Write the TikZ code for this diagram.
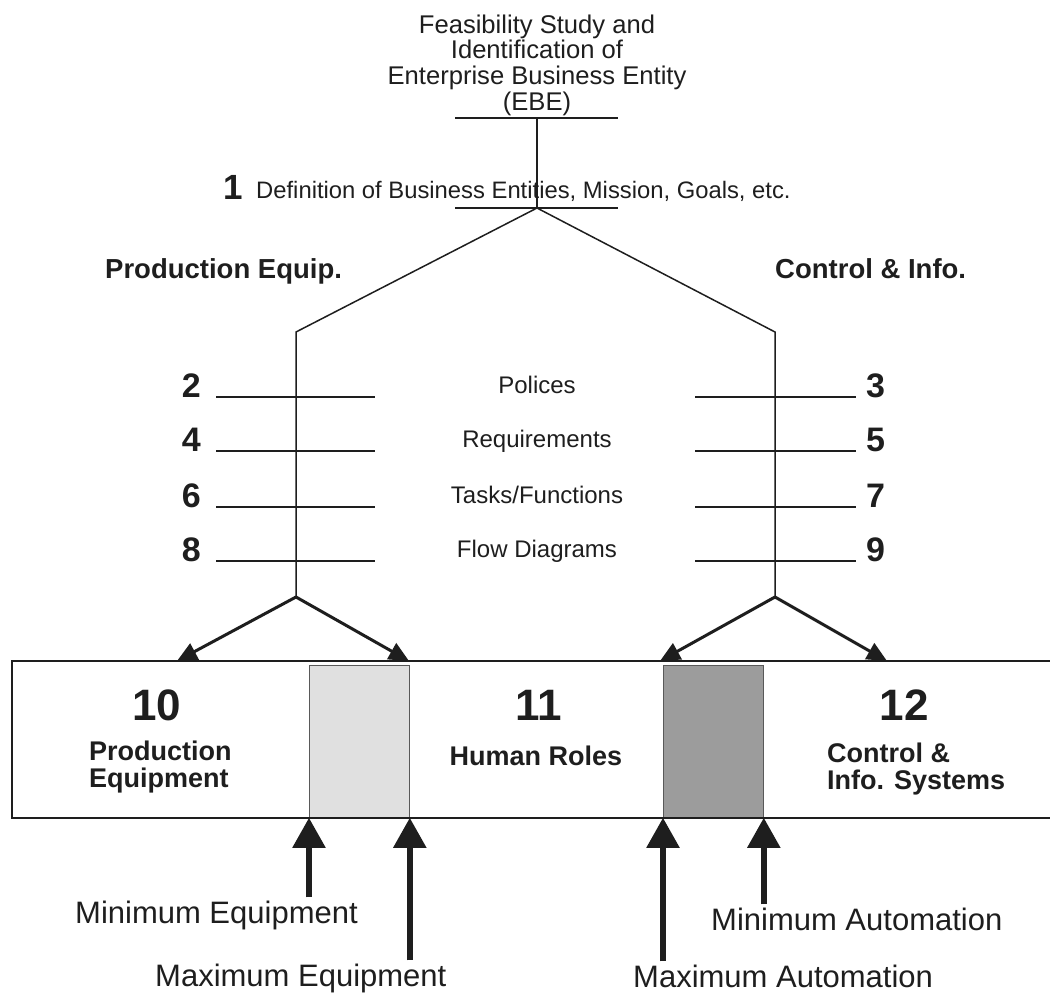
\documentclass[tikz,border=0pt]{standalone}
\usepackage{fontspec}
\setmainfont{Liberation Sans}
\usetikzlibrary{arrows.meta}
\definecolor{ink}{HTML}{1E1E1E}
\definecolor{lightshade}{HTML}{E0E0E0}
\definecolor{darkshade}{HTML}{9C9C9C}
\begin{document}
\begin{tikzpicture}[x=1pt,y=-1pt,
  txt/.style={inner sep=0pt, text=ink},
  title/.style={txt, font=\fontsize{25.6}{25.6}\selectfont},
  midlabel/.style={txt, font=\fontsize{24}{24}\selectfont, anchor=base},
  rownum/.style={txt, font=\bfseries\fontsize{34}{34}\selectfont},
  branch/.style={txt, font=\bfseries\fontsize{27.5}{27.5}\selectfont, anchor=base west},
  bignum/.style={txt, font=\bfseries\fontsize{44}{44}\selectfont, anchor=base},
  zone/.style={txt, font=\bfseries\fontsize{27}{26.5}\selectfont, align=left},
  limit/.style={txt, font=\fontsize{31}{31}\selectfont, anchor=base west},
  thin/.style={draw=ink, line width=1.5pt},
  rule/.style={draw=ink, line width=2pt},
  split/.style={draw=ink, line width=3pt, line cap=round,
    -{Triangle[width=18pt,length=20pt]}},
  push/.style={draw=ink, line width=5.5pt,
    -{Triangle[width=32pt,length=30pt]}},
  shade/.style={draw=gray!70!black, line width=0.8pt, inner sep=0pt,
    minimum width=100pt, minimum height=152pt, anchor=north west},
]
\useasboundingbox (0,0) rectangle (1050,993);

% --- top: feasibility study and phase 1 ---
\node[title, align=center, anchor=north] (ebe) at (537,14.5)
  {Feasibility Study and\\Identification of\\Enterprise Business Entity\\(EBE)};
\coordinate (ebeL) at (455,118);
\coordinate (ebeR) at (618,118);
\coordinate (ebeC) at (537,118);
\coordinate (defL) at (455,208);
\coordinate (defR) at (618,208);
\coordinate (fork) at (537,208);
\draw[thin] (ebeL) -- (ebeR);
\draw[thin] (defL) -- (defR);
\draw[thin] (ebeC) -- (fork);

\node[txt, font=\bfseries\fontsize{35}{35}\selectfont, anchor=base west] (one) at (223,199) {1};
\node[txt, font=\fontsize{23.8}{23.8}\selectfont, anchor=base west] (def) at (256,198)
  {Definition of Business Entities, Mission, Goals, etc.};

% --- the two streams ---
\node[branch] (peq) at (105,278) {Production Equip.};
\node[branch] (cinf) at (775,278) {Control \& Info.};

\coordinate (lTop) at (296,332);
\coordinate (rTop) at (775,332);
\coordinate (lBot) at (296,597);
\coordinate (rBot) at (775,597);
\draw[thin] (fork) -- (lTop) -- (lBot);
\draw[thin] (fork) -- (rTop) -- (rBot);

% --- numbered steps 2..9 ---
\foreach \ln/\rn/\yy/\lab [count=\i] in
    {2/3/397/Polices, 4/5/451/Requirements, 6/7/507/Tasks\slash Functions, 8/9/561/Flow Diagrams}{
  \coordinate (la\i) at (216,\yy);
  \coordinate (lb\i) at (375,\yy);
  \coordinate (ra\i) at (695,\yy);
  \coordinate (rb\i) at (856,\yy);
  \draw[rule] (la\i) -- (lb\i);
  \draw[rule] (ra\i) -- (rb\i);
  \node[rownum, anchor=base east] (num\ln) at (201,\yy) {\ln};
  \node[rownum, anchor=base west] (num\rn) at (866,\yy) {\rn};
  \node[midlabel] (lab\i) at (537,\yy-4) {\lab};
}

% --- implementation band 10 / 11 / 12 ---
\node[shade, fill=lightshade] (light) at (309,665) {};
\node[shade, fill=darkshade] (dark) at (663,665) {};
\coordinate (bandTR) at (1050,661);
\coordinate (bandTL) at (12,661);
\coordinate (bandBL) at (12,818);
\coordinate (bandBR) at (1050,818);
\draw[draw=ink, line width=2.5pt] (bandTR) -- (bandTL) -- (bandBL) -- (bandBR);

\coordinate (t10) at (177,661);
\coordinate (t11a) at (409,661);
\coordinate (t11b) at (660,661);
\coordinate (t12) at (887,661);
\draw[split] (lBot) -- (t10);
\draw[split] (lBot) -- (t11a);
\draw[split] (rBot) -- (t11b);
\draw[split] (rBot) -- (t12);

\node[bignum] (n10) at (157,720) {10};
\node[bignum] (n11) at (539,720) {11};
\node[bignum] (n12) at (904,720) {12};
\node[zone, anchor=north west] (z10) at (89,741) {Production\\Equipment};
\node[zone, anchor=base] (z11) at (536,765) {Human Roles};
\node[zone, anchor=north west] (z12) at (827,743) {Control \&\\Info. Systems};

% --- equipment / automation limits ---
\node[limit] (minEq) at (75,923) {Minimum Equipment};
\node[limit] (maxEq) at (155,986) {Maximum Equipment};
\node[limit] (maxAu) at (633,987) {Maximum Automation};
\node[limit] (minAu) at (711,930) {Minimum Automation};

\draw[push] (minEq.north -| light.south west) ++(0,-3) -- (light.south west);
\draw[push] (maxEq.north -| light.south east) ++(0,-3) -- (light.south east);
\draw[push] (maxAu.north -| dark.south west) ++(0,-3) -- (dark.south west);
\draw[push] (minAu.north -| dark.south east) ++(0,-3) -- (dark.south east);
\end{tikzpicture}
\end{document}
